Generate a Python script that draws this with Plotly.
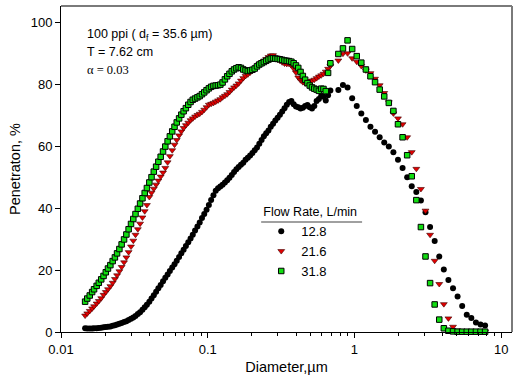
import plotly.graph_objects as go

# SMPS channel diameters (um), 64 channels/decade
smps_d = [0.0146, 0.0151, 0.0157, 0.0163, 0.0168, 0.0175, 0.0181, 0.0188, 0.0195, 0.0202,
          0.0209, 0.0217, 0.0225, 0.0233, 0.0241, 0.0250, 0.0259, 0.0269, 0.0279, 0.0289,
          0.0300, 0.0311, 0.0322, 0.0334, 0.0346, 0.0359, 0.0372, 0.0385, 0.0400, 0.0414,
          0.0429, 0.0445, 0.0461, 0.0478, 0.0496, 0.0514, 0.0533, 0.0552, 0.0573, 0.0594,
          0.0615, 0.0638, 0.0661, 0.0685, 0.0710, 0.0737, 0.0764, 0.0791, 0.0820, 0.0851,
          0.0882, 0.0914, 0.0947, 0.0982, 0.1018, 0.1055, 0.1094, 0.1134, 0.1176, 0.1219,
          0.1263, 0.1310, 0.1358, 0.1407, 0.1459, 0.1512, 0.1568, 0.1625, 0.1685, 0.1747,
          0.1811, 0.1877, 0.1946, 0.2017, 0.2091, 0.2167, 0.2247, 0.2329, 0.2414, 0.2503,
          0.2595, 0.2690, 0.2788, 0.2890, 0.2996, 0.3106, 0.3220, 0.3338, 0.3460, 0.3587,
          0.3718, 0.3854, 0.3995, 0.4142, 0.4294, 0.4451, 0.4614, 0.4783, 0.4958, 0.5140,
          0.5328, 0.5523, 0.5725, 0.5935, 0.6153, 0.6378, 0.6612, 0.6854]

# APS channel diameters (um)
aps_d = [0.777, 0.835, 0.898, 0.965, 1.037, 1.114, 1.197, 1.286, 1.382, 1.486,
         1.596, 1.715, 1.843, 1.981, 2.129, 2.288, 2.458, 2.642, 2.839, 3.051,
         3.278, 3.523, 3.786, 4.068, 4.371, 4.698, 5.048, 5.425, 5.829, 6.264,
         6.732, 7.234, 7.774]

# Flow rate 12.8 L/min
p128_smps = [1.2, 1.1, 1.1, 1.1, 1.2, 1.2, 1.3, 1.4, 1.5, 1.6,
             1.7, 1.8, 2.0, 2.2, 2.4, 2.7, 2.9, 3.2, 3.5, 3.9,
             4.3, 4.7, 5.2, 5.8, 6.4, 7.2, 8.0, 8.8, 9.8, 10.8,
             11.9, 13.0, 14.1, 15.2, 16.4, 17.5, 18.6, 19.7, 20.8, 21.9,
             23.0, 24.2, 25.4, 26.6, 27.8, 29.0, 30.2, 31.4, 32.8, 34.1,
             35.4, 36.8, 38.1, 39.5, 41.0, 42.6, 44.2, 45.6, 46.4, 47.0,
             47.6, 48.3, 49.0, 49.8, 50.7, 51.7, 52.6, 53.3, 54.0, 54.7,
             55.6, 56.3, 57.0, 57.8, 58.7, 59.6, 60.8, 62.0, 63.2, 64.2,
             65.1, 66.3, 67.3, 68.3, 69.2, 70.2, 71.2, 72.3, 73.4, 74.3,
             74.6, 73.6, 72.8, 72.6, 72.2, 72.4, 73.0, 73.3, 72.6, 72.2,
             73.0, 74.6, 75.3, 76.3, 76.0, 74.8, 76.5, 78.0]
p128_aps = [78.2, 79.8, 79.0, 75.5, 73.0, 70.6, 68.5, 66.3, 64.7, 62.9,
            61.2, 59.9, 58.1, 55.6, 53.0, 50.0, 47.1, 45.2, 42.5, 38.7,
            33.9, 29.4, 24.4, 20.2, 16.8, 14.1, 11.5, 8.4, 5.6, 4.5,
            3.1, 2.4, 2.1]

# Flow rate 21.6 L/min
p216_smps = [5.3, 6.0, 6.8, 7.6, 8.3, 9.2, 10.0, 10.9, 12.0, 12.9,
             13.8, 14.8, 15.9, 17.1, 18.3, 19.6, 21.0, 22.5, 24.1, 25.8,
             27.6, 29.5, 31.4, 33.2, 35.0, 37.0, 39.0, 41.0, 43.6, 45.0,
             46.3, 47.6, 48.9, 50.2, 51.5, 53.0, 54.8, 56.8, 58.7, 60.5,
             62.0, 63.5, 64.8, 65.9, 66.8, 67.6, 68.4, 69.0, 69.6, 70.1,
             70.5, 71.1, 71.8, 72.6, 73.4, 73.7, 74.0, 74.4, 74.8, 75.2,
             75.8, 76.3, 76.8, 77.5, 78.3, 79.0, 79.6, 80.3, 81.2, 82.0,
             82.7, 83.2, 83.8, 84.4, 85.0, 85.7, 86.5, 87.1, 87.6, 88.2,
             88.8, 89.3, 89.4, 88.7, 88.0, 87.6, 87.1, 86.7, 86.6, 86.6,
             86.2, 85.1, 83.8, 82.2, 81.3, 80.7, 80.3, 80.5, 81.0, 81.2,
             81.5, 82.0, 82.5, 82.9, 83.4, 84.1, 85.0, 86.0]
p216_aps = [87.7, 89.9, 90.0, 88.4, 87.3, 85.9, 84.5, 83.6, 81.8, 79.7,
            77.2, 74.2, 70.6, 69.0, 67.1, 62.9, 58.1, 52.7, 46.2, 39.2,
            31.4, 23.0, 15.5, 9.0, 4.4, 1.7, 0.5, 0.1, 0.1, 0.1,
            0.1, 0.1, 0.1]

# Flow rate 31.8 L/min
p318_smps = [9.8, 10.8, 11.8, 12.9, 13.8, 14.9, 15.9, 17.0, 18.1, 19.3,
             20.5, 21.6, 22.9, 24.1, 25.4, 26.8, 28.3, 29.9, 31.5, 33.2,
             34.9, 36.5, 38.1, 39.8, 41.5, 43.2, 44.9, 46.5, 48.3, 50.0,
             51.8, 53.4, 55.0, 56.6, 58.3, 59.9, 61.6, 63.2, 64.8, 66.3,
             67.7, 69.0, 70.2, 71.3, 72.3, 73.4, 74.3, 75.0, 75.4, 75.8,
             76.2, 76.8, 77.4, 78.1, 78.7, 79.2, 79.5, 79.6, 79.7, 79.9,
             80.6, 81.6, 82.6, 83.4, 84.2, 84.8, 85.2, 85.5, 85.3, 84.8,
             84.5, 84.3, 84.5, 84.7, 85.1, 85.8, 86.4, 86.8, 87.2, 87.6,
             88.0, 88.3, 88.4, 88.3, 88.2, 88.1, 87.9, 87.7, 87.6, 87.5,
             87.3, 86.8, 86.1, 85.3, 84.0, 82.7, 81.5, 80.4, 79.6, 79.0,
             78.6, 78.3, 77.9, 78.6, 78.5, 77.8, 83.7, 86.8]
p318_aps = [89.8, 91.6, 94.2, 91.4, 89.1, 87.0, 84.8, 82.6, 80.7, 78.3,
            76.1, 74.0, 71.4, 67.1, 62.9, 57.1, 50.3, 42.6, 33.9, 24.4,
            15.8, 8.9, 4.0, 1.2, 0.4, 0.2, 0.1, 0.1, 0.1, 0.1,
            0.1, 0.1, 0.1]

series_names = ["12.8", "21.6", "31.8"]

x_tickvals = [0.01, 0.1, 1, 10]
x_ticktext = ["0.01", "0.1", "1", "10"]
x_minor = [0.02, 0.03, 0.04, 0.05, 0.06, 0.07, 0.08, 0.09,
           0.2, 0.3, 0.4, 0.5, 0.6, 0.7, 0.8, 0.9,
           2, 3, 4, 5, 6, 7, 8, 9]
y_tickvals = [0, 20, 40, 60, 80, 100]

FONT = "Liberation Sans, Arial, sans-serif"

fig = go.Figure()
fig.add_trace(go.Scatter(
    x=smps_d + aps_d, y=p128_smps + p128_aps, mode="markers", name=series_names[0],
    marker=dict(symbol="circle", size=6, color="black", line=dict(width=0)),
    cliponaxis=False))
fig.add_trace(go.Scatter(
    x=smps_d + aps_d, y=p216_smps + p216_aps, mode="markers", name=series_names[1],
    marker=dict(symbol="triangle-down", size=6, color="#e00000",
                line=dict(width=0.6, color="#400000")),
    cliponaxis=False))
fig.add_trace(go.Scatter(
    x=smps_d + aps_d, y=p318_smps + p318_aps, mode="markers", name=series_names[2],
    marker=dict(symbol="square", size=5.5, color="#11dd11",
                line=dict(width=1, color="black")),
    cliponaxis=False))

fig.update_layout(
    width=521, height=383,
    margin=dict(l=61, r=9, t=6, b=51),
    paper_bgcolor="white", plot_bgcolor="white",
    font=dict(family=FONT, size=13, color="black"),
    showlegend=True,
    legend=dict(
        x=0.444, y=0.405, xanchor="left", yanchor="top",
        bgcolor="rgba(0,0,0,0)", borderwidth=0,
        title=dict(text="Flow Rate, L/min", font=dict(size=12.5)),
        font=dict(size=13), tracegroupgap=0,
    ),
    xaxis=dict(
        type="log", range=[-2, 1.074],
        tickvals=x_tickvals, ticktext=x_ticktext,
        ticks="outside", ticklen=5, tickwidth=1, tickcolor="black",
        showline=True, linecolor="black", linewidth=1,
        showgrid=False, zeroline=False,
        minor=dict(tickvals=x_minor, ticks="outside", ticklen=3,
                   tickcolor="black", showgrid=False),
        tickfont=dict(size=13),
        title=dict(text="Diameter,\u00b5m", font=dict(size=14.5), standoff=6),
    ),
    yaxis=dict(
        range=[0, 105.3],
        tickvals=y_tickvals,
        ticks="outside", ticklen=5, tickwidth=1, tickcolor="black",
        showline=True, linecolor="black", linewidth=1,
        showgrid=False, zeroline=False,
        tickfont=dict(size=13),
        title=dict(text="Penetraton, %", font=dict(size=14.5), standoff=6),
    ),
)

# frame (top/right) in gray
fig.add_shape(type="line", xref="paper", yref="paper", x0=0, x1=1, y0=1, y1=1,
              line=dict(color="#7a7a7a", width=2))
fig.add_shape(type="line", xref="paper", yref="paper", x0=1, x1=1, y0=0, y1=1,
              line=dict(color="#7a7a7a", width=2))
# legend title underline
fig.add_shape(type="line", xref="paper", yref="paper", x0=0.4438, x1=0.6676,
              y0=0.3371, y1=0.3371, line=dict(color="#808080", width=1.5))

fig.add_annotation(xref="paper", yref="paper", x=0.053, y=0.911, xanchor="left",
                   yanchor="middle", showarrow=False,
                   text="100 ppi ( d<sub>f</sub> = 35.6 \u00b5m)",
                   font=dict(family=FONT, size=12.5))
fig.add_annotation(xref="paper", yref="paper", x=0.053, y=0.859, xanchor="left",
                   yanchor="middle", showarrow=False, text="T = 7.62 cm",
                   font=dict(family=FONT, size=12.5))
fig.add_annotation(xref="paper", yref="paper", x=0.053, y=0.804, xanchor="left",
                   yanchor="middle", showarrow=False, text="\u03b1 = 0.03",
                   font=dict(family="Liberation Serif, Times New Roman, serif", size=12.5))

fig.write_html("out.html")
